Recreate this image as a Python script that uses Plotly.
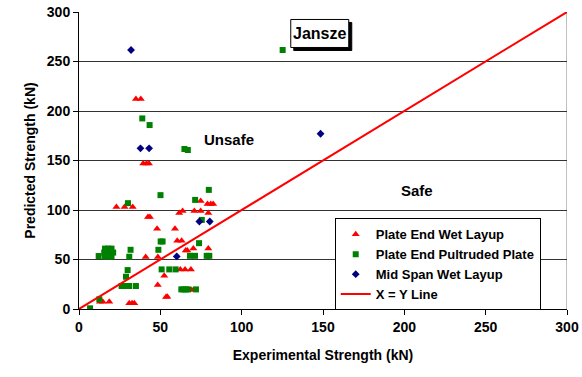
import plotly.graph_objects as go

# Plate End Wet Layup (red triangles)
wet_x = [35, 38, 39.5, 41.5, 43, 23, 28, 33, 42.4, 43.6, 48, 59, 60.4, 63.1, 65.6, 66.6,
         70.3, 79.5, 61.6, 63.7, 70.9, 74.8, 74.8, 79.5, 79, 81, 82.5, 41, 48.5,
         62.3, 65.2, 68.8, 52.4, 48.4, 53.5, 54.3, 65.8, 69.3, 30.9, 32.6, 34, 12.9, 14.6, 18.6]
wet_y = [212, 212, 147, 147, 147, 103, 103, 103, 93, 93, 81, 81, 69, 69, 59, 59,
         61, 61, 97, 99, 99, 109, 99, 97, 106, 106, 106, 52.5, 52.5,
         40, 40, 40, 33.5, 24.3, 12, 12.5, 19.2, 19.2, 5.7, 5.7, 5.7, 7.4, 7.4, 7.4]

# Plate End Pultruded Plate (green squares)
pul_x = [38.9, 43.4, 64.8, 66.9, 79.8, 50.1, 71.4, 30.1, 75.5, 50.2, 51.4, 73.8, 48.8, 31.7,
         16, 18, 20, 15.5, 17.5, 19.5, 21, 16, 18, 20, 12.1, 30.9,
         29.9, 28.9, 26.2, 27.8, 29.5, 30.9, 35, 12.5, 6.8,
         50.8, 55.5, 59.4, 68.2, 71.3, 78.5, 80.1, 62.9, 64.3, 65.8, 67, 71.9, 125.2]
pul_y = [192.5, 185.8, 161.6, 160.6, 120.3, 115, 110.2, 106.9, 90, 68.2, 68.2, 66.5, 59.8, 59.8,
         61, 61, 61, 57, 57, 57, 57, 53, 53, 53, 53.5, 52.8,
         39.3, 32.6, 23.2, 23.2, 23.2, 23.2, 23.2, 9.8, 0.7,
         40, 40, 40, 53.7, 53.7, 53.7, 53.7, 19.8, 19.8, 19.8, 19.8, 19.8, 261.6]

# Mid Span Wet Layup (blue diamonds)
mid_x = [37.8, 43.1, 74, 80.4, 60.1, 32, 148.5]
mid_y = [162.3, 162.3, 88.4, 88.4, 53.1, 261.6, 177]

line_x = [0, 300]
line_y = [0, 300]

xticks = [0, 50, 100, 150, 200, 250, 300]
yticks = [0, 50, 100, 150, 200, 250, 300]

FONT = "Arial, Liberation Sans, sans-serif"

fig = go.Figure()
fig.add_trace(go.Scatter(x=wet_x, y=wet_y, mode="markers", name="Plate End Wet Layup",
                         marker=dict(symbol="triangle-up", size=7, color="#FF0000")))
fig.add_trace(go.Scatter(x=pul_x, y=pul_y, mode="markers", name="Plate End Pultruded Plate",
                         marker=dict(symbol="square", size=6, color="#008000")))
fig.add_trace(go.Scatter(x=mid_x, y=mid_y, mode="markers", name="Mid Span Wet Layup",
                         marker=dict(symbol="diamond", size=6, color="#000080")))
fig.add_trace(go.Scatter(x=line_x, y=line_y, mode="lines", name="X = Y Line",
                         line=dict(color="#FF0000", width=2)))

fig.add_shape(type="line", x0=300, x1=300, y0=0, y1=300, xref="x", yref="y",
              line=dict(color="#808080", width=1), layer="below")

fig.add_annotation(x=92, y=171, text="<b>Unsafe</b>", showarrow=False,
                   font=dict(family=FONT, size=15, color="black"))
fig.add_annotation(x=208, y=120, text="<b>Safe</b>", showarrow=False,
                   font=dict(family=FONT, size=15, color="black"))

# Jansze label box with drop shadow
JX, JY = 148, 278.3
fig.add_shape(type="rect", xref="x", yref="y", xsizemode="pixel", ysizemode="pixel",
              xanchor=JX, yanchor=JY, x0=-26, x1=32, y0=-17, y1=11,
              fillcolor="black", line=dict(color="black", width=1), layer="above")
fig.add_shape(type="rect", xref="x", yref="y", xsizemode="pixel", ysizemode="pixel",
              xanchor=JX, yanchor=JY, x0=-29, x1=29, y0=-14, y1=14,
              fillcolor="white", line=dict(color="black", width=1), layer="above")
fig.add_annotation(x=JX, y=JY, text="<b>Jansze</b>", showarrow=False,
                   font=dict(family=FONT, size=16, color="black"))

fig.update_layout(
    width=582, height=377,
    margin=dict(l=79, r=15, t=12, b=68),
    paper_bgcolor="white", plot_bgcolor="white",
    font=dict(family=FONT, size=13, color="black"),
    showlegend=True,
    legend=dict(x=0.524, y=0.305, xanchor="left", yanchor="top",
                bgcolor="white", bordercolor="black", borderwidth=1,
                font=dict(family=FONT, size=13, color="black", weight="bold"),
                tracegroupgap=0, itemwidth=30),
    xaxis=dict(range=[0, 300], tickvals=xticks, ticks="outside", ticklen=5, tickcolor="black",
               showline=True, linecolor="black", linewidth=1, showgrid=False, zeroline=False,
               automargin=False,
               tickfont=dict(family=FONT, size=14, color="black", weight="bold"),
               title=dict(text="<b>Experimental Strength (kN)</b>", standoff=16,
                          font=dict(family=FONT, size=14, color="black"))),
    yaxis=dict(range=[0, 300], tickvals=yticks, ticks="outside", ticklen=5, tickcolor="black",
               showline=True, linecolor="black", linewidth=1, showgrid=True,
               gridcolor="#333333", gridwidth=1, zeroline=False,
               automargin=False,
               tickfont=dict(family=FONT, size=14, color="black", weight="bold"),
               title=dict(text="<b>Predicted Strength (kN)</b>", standoff=7,
                          font=dict(family=FONT, size=14, color="black"))),
)

fig.write_html("out.html")
